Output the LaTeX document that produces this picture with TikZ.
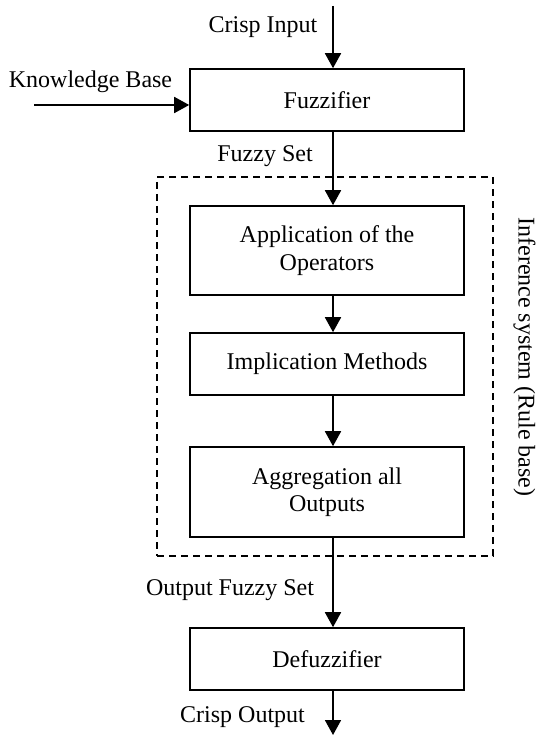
\documentclass[tikz,border=0pt]{standalone}
\usepackage{fontspec}
\setmainfont{Liberation Serif}
\usetikzlibrary{arrows.meta}
\begin{document}
\begin{tikzpicture}[x=1pt,y=-1pt,
  font=\fontsize{24}{27.5}\selectfont,
  blockbox/.style={draw, line width=1.6pt, minimum width=274pt, inner sep=0pt, align=center},
  flow/.style={line width=1.8pt, -{Triangle[length=15pt,width=16pt]}},
  lbl/.style={anchor=base, inner sep=0pt},
  groupbox/.style={draw, line width=1.4pt, dash pattern=on 7pt off 5pt, inner sep=0pt}]
\useasboundingbox (0,0) rectangle (537,735);
% blocks
\node[blockbox, minimum height=62pt] (fuzz) at (327,100) {Fuzzifier};
\node[groupbox, minimum width=336pt, minimum height=379pt] (inf) at (325,366.5) {};
\node[blockbox, minimum height=89pt] (app) at (327,250.5) {Application of the\\Operators};
\node[blockbox, minimum height=62pt] (impl) at (327,364) {Implication Methods};
\node[blockbox, minimum height=90pt] (aggr) at (327,492) {Aggregation all\\Outputs};
\node[blockbox, minimum height=62pt] (defz) at (327,659) {Defuzzifier};
% labels
\node[lbl] (cil) at (263,33) {Crisp Input};
\node[lbl] (kbl) at (90.5,88) {Knowledge Base};
\node[lbl] (fsl) at (265,162) {Fuzzy Set};
\node[lbl] (ofl) at (230,595) {Output Fuzzy Set};
\node[lbl] (col) at (242.5,722) {Crisp Output};
\node[lbl, rotate=-90] (isl) at (518.5,357) {Inference system (Rule base)};
% connectors
\coordinate (ax) at (333,0);
\coordinate (ci) at (333,6);
\coordinate (kb) at (34,105);
\coordinate (co) at (333,735);
\draw[flow] (ci) -- (fuzz.north -| ci);
\draw[flow] (kb) -- (kb -| fuzz.west);
\draw[flow] (fuzz.south -| ax) -- (app.north -| ax);
\draw[flow] (app.south -| ax) -- (impl.north -| ax);
\draw[flow] (impl.south -| ax) -- (aggr.north -| ax);
\draw[flow] (aggr.south -| ax) -- (defz.north -| ax);
\draw[flow] (defz.south -| ax) -- (co);
\end{tikzpicture}
\end{document}
